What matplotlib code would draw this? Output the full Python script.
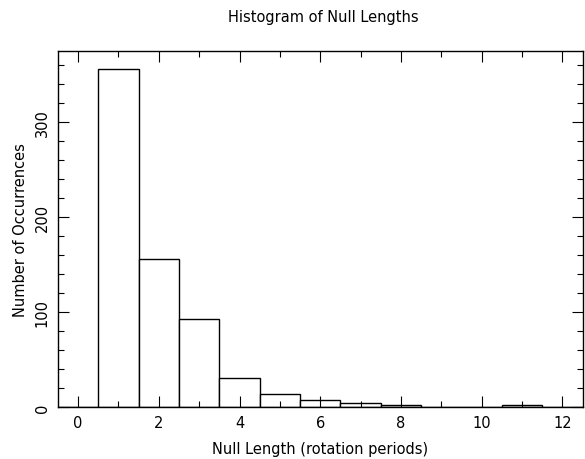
import matplotlib
matplotlib.use("Agg")
import matplotlib.pyplot as plt
from matplotlib.ticker import MultipleLocator

null_length = [0, 1, 2, 3, 4, 5, 6, 7, 8, 9, 10, 11, 12]
counts = [0, 356, 156, 93, 31, 14, 7, 4, 2, 0, 0, 2, 0]

fig = plt.figure(figsize=(5.85, 4.6), dpi=100)
ax = fig.add_axes([0.099, 0.113, 0.897, 0.774])

ax.bar(null_length, counts, width=1.0, color="white", edgecolor="black", linewidth=1.0)

ax.set_xlim(-0.5, 12.5)
ax.set_ylim(0, 375)
ax.xaxis.set_major_locator(MultipleLocator(2))
ax.xaxis.set_minor_locator(MultipleLocator(1))
ax.yaxis.set_major_locator(MultipleLocator(100))
ax.yaxis.set_minor_locator(MultipleLocator(20))
ax.tick_params(which="both", direction="in", top=True, right=True, labelsize=10.5, width=0.8)
ax.tick_params(which="major", length=8, pad=6)
ax.tick_params(which="minor", length=4)
for lab in ax.get_yticklabels():
    lab.set_rotation(90)
    lab.set_va("center")
for s in ax.spines.values():
    s.set_linewidth(1.0)

ax.set_xlabel("Null Length (rotation periods)", fontsize=10.5, labelpad=8)
ax.set_ylabel("Number of Occurrences", fontsize=10.5, labelpad=5)
fig.text(0.553, 0.962, "Histogram of Null Lengths", ha="center", va="center", fontsize=10.5)

fig.savefig("out.png", dpi=100)
